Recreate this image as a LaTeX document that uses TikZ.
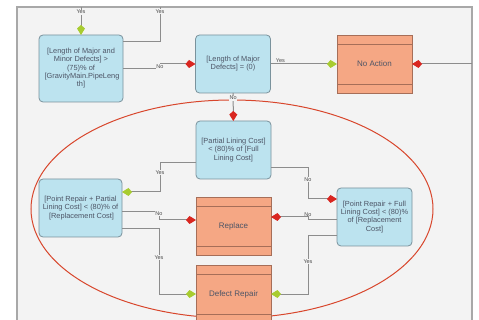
\documentclass[tikz,border=0pt]{standalone}
\usepackage{fontspec}
\setmainfont{Liberation Sans}
\usetikzlibrary{arrows.meta,positioning,calc}
\definecolor{condFill}{HTML}{BCE3EF}
\definecolor{condLine}{HTML}{7A929C}
\definecolor{actFill}{HTML}{F5A784}
\definecolor{actLine}{HTML}{A66E58}
\definecolor{yesColor}{HTML}{A8CC30}
\definecolor{noColor}{HTML}{D92620}
\definecolor{wireColor}{HTML}{8C8C8C}
\definecolor{loopColor}{HTML}{D8462C}
\definecolor{pageColor}{HTML}{F3F3F3}
\definecolor{frameColor}{HTML}{A8A8A8}
\definecolor{txtColor}{HTML}{4D5566}
\tikzset{
	cond/.style={draw=condLine, fill=condFill, rounded corners=4pt, line width=0.8pt,
		minimum width=75pt, minimum height=58pt, inner sep=0pt, outer sep=0,
		text=txtColor, font=\fontsize{7.4}{8.4}\selectfont},
	act/.style={draw=actLine, fill=actFill, line width=0.8pt,
		minimum width=75pt, minimum height=58pt, inner sep=0pt, outer sep=0,
		text=txtColor, font=\fontsize{8}{9}\selectfont,
		path picture={\draw[actLine, line width=0.8pt]
			([yshift=-9pt]path picture bounding box.north west) -- ([yshift=-9pt]path picture bounding box.north east)
			([yshift=9pt]path picture bounding box.south west) -- ([yshift=9pt]path picture bounding box.south east);}},
	wire/.style={draw=wireColor, line width=1pt},
	yesEdge/.style={wire, -{Kite[length=10pt,width=8pt,inset=3.5pt,color=yesColor]}},
	noEdge/.style={wire, -{Kite[length=10pt,width=8pt,inset=3.5pt,color=noColor]}},
	lab/.style={font=\fontsize{5.5}{5.5}\selectfont, text=black!70, inner sep=0.6pt, fill=pageColor}
}
\newcommand{\cnd}[1]{\begin{tabular}{@{}c@{}}#1\end{tabular}}
\begin{document}
\begin{tikzpicture}[x=1pt, y=-1pt]
	\useasboundingbox (0,0) rectangle (479,320);
	\clip (0,0) rectangle (479,320);
	\fill[white] (0,0) rectangle (479,320);
	\draw[frameColor, line width=2pt, fill=pageColor] (17,7) rectangle (472,340);
	
	% group of cost checks
	\draw[loopColor, line width=1pt] (232,209) ellipse (201pt and 109pt);
	
	\node[cond, minimum width=84pt, minimum height=67pt] (lenAll) at (81,68.5) {\cnd{[Length of Major and\\ Minor Defects] >\\ (75)\% of\\{} [GravityMain.PipeLeng\\ th]}};
	\node[cond] (lenMaj) at (233,64) {\cnd{[Length of Major\\ Defects] = (0)}};
	\node[act] (noAction) at (374.5,64) {No Action};
	\node[cond] (partLin) at (233.5,150) {\cnd{[Partial Lining Cost]\\ < (80)\% of [Full\\ Lining Cost]}};
	\node[cond, minimum width=83pt] (prPart) at (80.5,208) {\cnd{[Point Repair + Partial\\ Lining Cost] < (80)\% of\\{} [Replacement Cost]}};
	\node[act] (replace) at (233.5,226) {Replace};
	\node[act] (defRep) at (233.5,294) {Defect Repair};
	\node[cond] (prFull) at (374.5,217) {\cnd{[Point Repair + Full\\ Lining Cost] < (80)\%\\ of [Replacement\\ Cost]}};
	
	\coordinate (inTop) at (81,7);
	\coordinate (outTop) at (160,7);
	\coordinate (inRight) at (472,64);
	
	\draw[yesEdge] (inTop) -- node[lab, pos=0.18] {Yes} (lenAll);
	\draw[wire] ([yshift=26.5pt]lenAll.east) -| node[lab, pos=0.93] {Yes} (outTop);
	\draw[noEdge] (lenAll.east) -- ++(37,0) |- node[lab, pos=0.25] {No} (lenMaj.west);
	\draw[yesEdge] (lenMaj) -- node[lab, pos=0.15, above, fill=none] {Yes} (noAction);
	\draw[noEdge] (inRight) -- (noAction);
	\draw[noEdge] (lenMaj) -- node[lab, pos=0.18] {No} (partLin);
	
	\draw[yesEdge] ([yshift=-13pt]partLin.west) -- ++(-36,0) |- node[lab, pos=0.17] {Yes} ([yshift=16pt]prPart.east);
	\draw[noEdge] ([yshift=-18pt]partLin.east) -- ++(37,0) |- node[lab, pos=0.19] {No} ([yshift=18pt]prFull.west);
	\draw[noEdge] ([yshift=-4pt]prPart.east) -- ++(37,0) |- node[lab, pos=0.1] {No} ([yshift=6pt]replace.west);
	\draw[yesEdge] ([yshift=-21pt]prPart.east) -- ++(37,0) |- node[lab, pos=0.22] {Yes} (defRep.west);
	\draw[noEdge] ([yshift=-3pt]prFull.west) -- ++(-29,0) |- node[lab, pos=0.45, above, fill=none] {No} ([yshift=9pt]replace.east);
	\draw[yesEdge] ([yshift=-19pt]prFull.west) -- ++(-29,0) |- node[lab, pos=0.22] {Yes} (defRep.east);
\end{tikzpicture}
\end{document}
